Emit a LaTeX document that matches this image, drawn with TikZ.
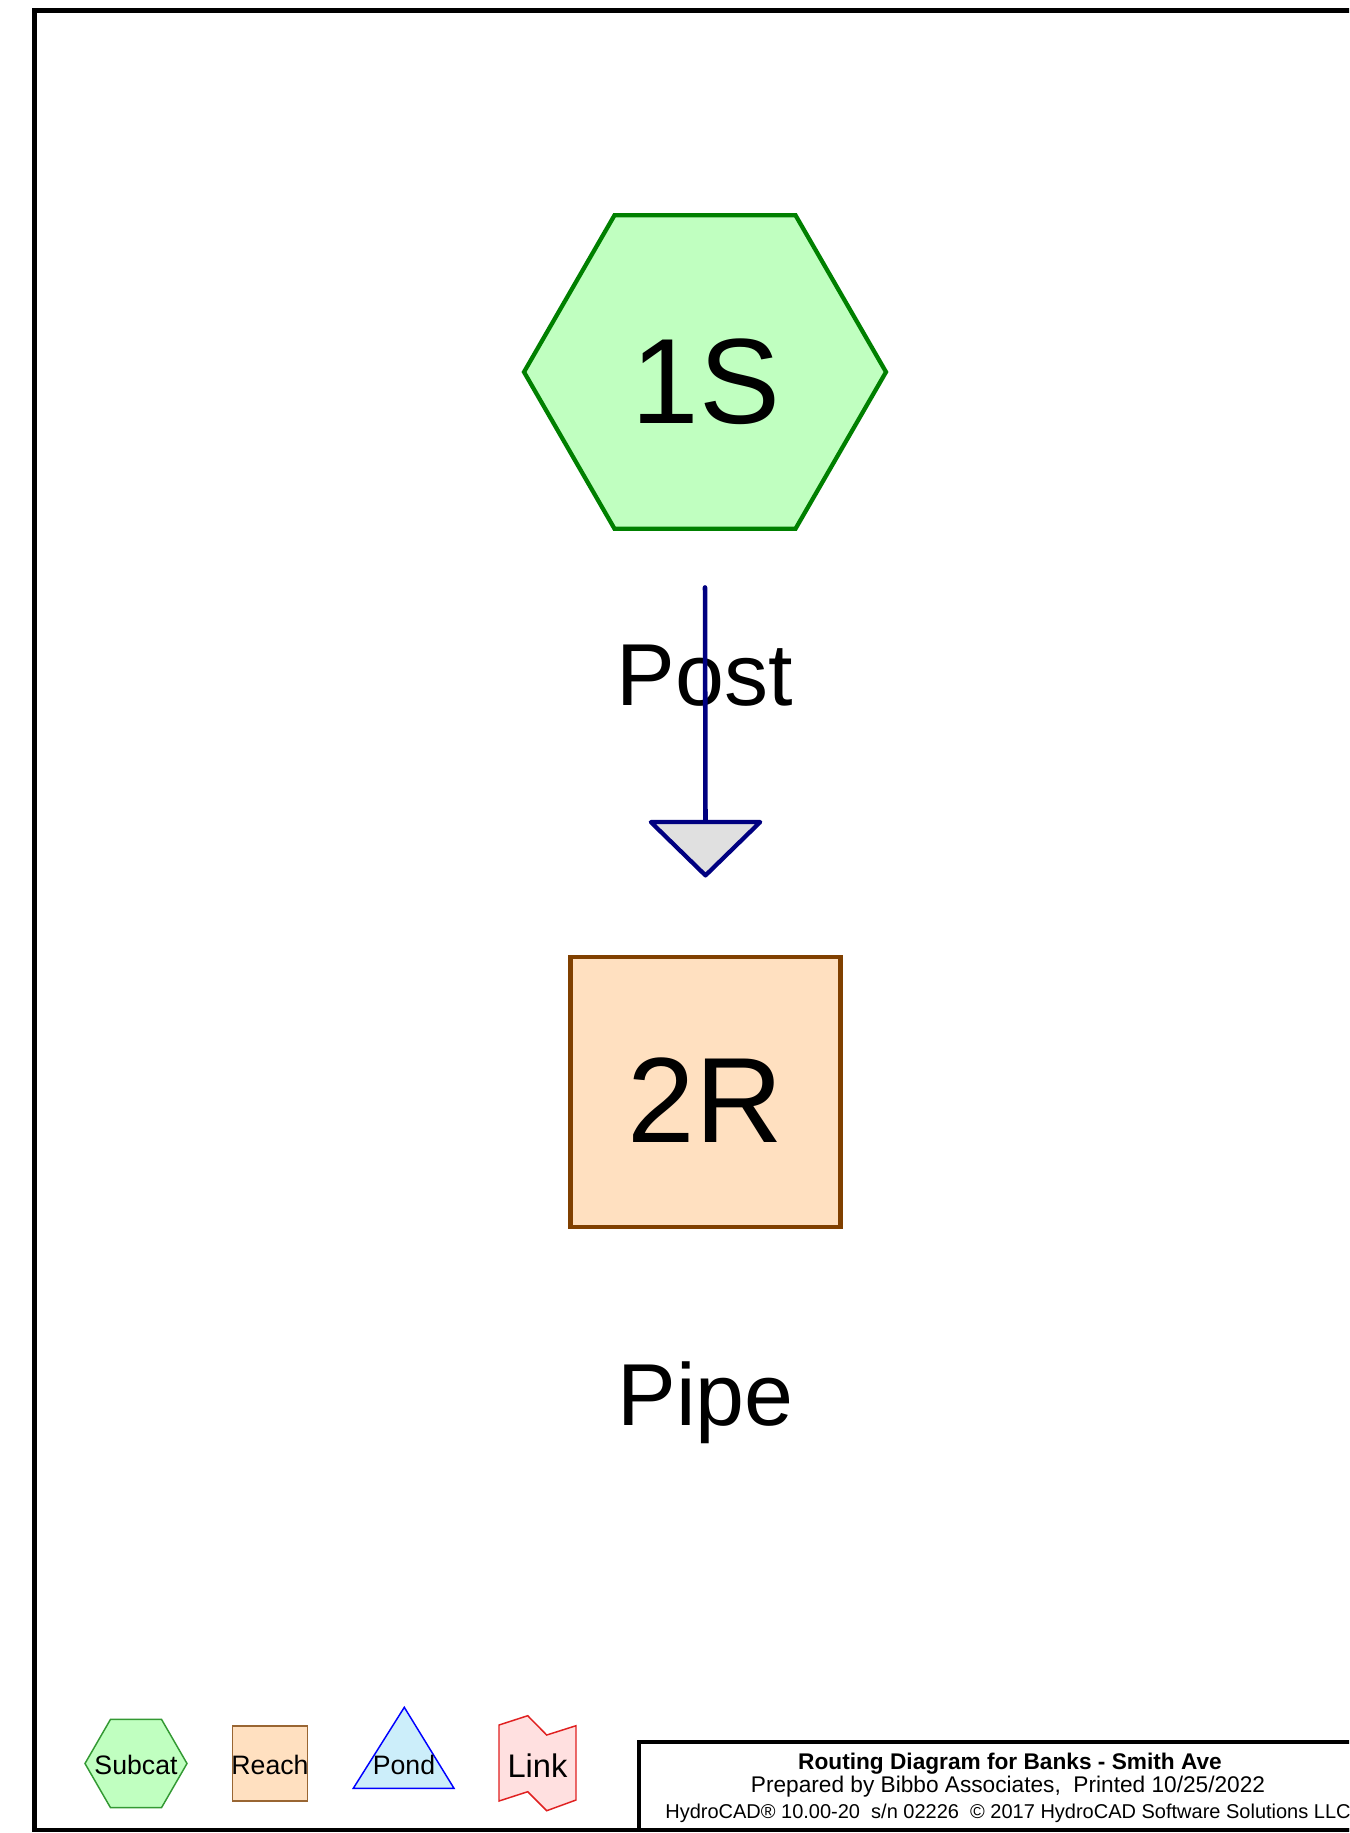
\documentclass[tikz,border=0pt]{standalone}
\usepackage{fontspec}
\setmainfont{Liberation Sans}
\usetikzlibrary{shapes.geometric, positioning, calc}
\definecolor{subgreen}{HTML}{008000}
\definecolor{subfill}{HTML}{C0FFC0}
\definecolor{reachbrown}{HTML}{804000}
\definecolor{reachfill}{HTML}{FFE0C0}
\definecolor{flownavy}{HTML}{000080}
\definecolor{outletfill}{HTML}{E0E0E0}
\definecolor{keygreen}{HTML}{339933}
\definecolor{keybrown}{HTML}{996633}
\definecolor{pondblue}{HTML}{0000FF}
\definecolor{pondfill}{HTML}{CCEEFA}
\definecolor{linkred}{HTML}{E02020}
\definecolor{linkfill}{HTML}{FFE0E0}
\tikzset{
	subcatnode/.style={
			regular polygon,
			regular polygon sides=6,
			draw=subgreen,
			fill=subfill,
			line width=3.2pt,
			minimum size=271.5pt,
			inner sep=0pt
		},
	reachnode/.style={
			rectangle,
			draw=reachbrown,
			fill=reachfill,
			line width=3.2pt,
			minimum size=202.5pt,
			inner sep=0pt
		},
	subcatkey/.style={
			subcatnode,
			draw=keygreen,
			line width=1.1pt,
			minimum size=76.5pt
		},
	reachkey/.style={
			reachnode,
			draw=keybrown,
			line width=1.1pt,
			minimum size=56.25pt
		}
}
\tikzset{
	framebox/.style={draw=black, line width=3.2pt},
	flowline/.style={draw=flownavy, line width=3.4pt, line cap=round},
	outletmark/.style={draw=flownavy, fill=outletfill, line width=3.2pt, line join=round},
	pondkey/.style={draw=pondblue, fill=pondfill, line width=1.1pt},
	linkkey/.style={draw=linkred, fill=linkfill, line width=1.1pt}
}
\tikzset{
	bigtext/.style={inner sep=0pt, font=\fontsize{91pt}{91pt}\selectfont},
	nametext/.style={inner sep=0pt, font=\fontsize{66pt}{66pt}\selectfont},
	keytext/.style={inner sep=0pt, font=\fontsize{20pt}{20pt}\selectfont},
	linktext/.style={inner sep=0pt, font=\fontsize{24.5pt}{24.5pt}\selectfont},
	titlebold/.style={inner sep=0pt, font=\fontsize{17pt}{17pt}\selectfont\bfseries},
	titletext/.style={inner sep=0pt, font=\fontsize{17pt}{17pt}\selectfont},
	smalltext/.style={inner sep=0pt, font=\fontsize{15pt}{15pt}\selectfont}
}
\begin{document}
\begin{tikzpicture}[x=0.75pt, y=-0.75pt]
	\fill[white] (0,0) rectangle (1349,1833);
	\useasboundingbox (0,0) rectangle (1349,1833);
	\clip (0,0) rectangle (1349,1833);

	\draw[framebox] (34.5,10.5) rectangle (1400,1830);

	% subcatchment and reach
	\node[subcatnode] (s1) at (705,372) {};
	\node[bigtext, anchor=base] (s1id) at (706,423) {1S};
	\node[nametext, anchor=base] (s1name) at (705,705) {Post};

	\node[reachnode] (r2) at (705.5,1092) {};
	\node[bigtext, anchor=base] (r2id) at (705.5,1142) {2R};
	\node[nametext, anchor=base] (r2name) at (705.5,1425) {Pipe};

	\coordinate[below=42.4pt of s1.south] (s1out);
	\coordinate[above=99.6pt of r2.north] (r2in);
	\draw[flowline] (s1out) -- (r2in);
	\draw[outletmark] ([xshift=-41pt]r2in) -- ([xshift=41pt]r2in) -- ([yshift=-40pt]r2in) -- cycle;

	% legend
	\node[subcatkey] (keysub) at (136,1763.5) {};
	\node[keytext, anchor=base] (keysubtxt) at (136,1774) {Subcat};
	\node[reachkey] (keyreach) at (270,1763.5) {};
	\node[keytext, anchor=base] (keyreachtxt) at (270,1774) {Reach};
	\draw[pondkey] (404.3,1707.3) -- (454,1788.3) -- (353.3,1788.3) -- cycle;
	\node[keytext, anchor=base] (keypondtxt) at (404,1774) {Pond};
	\draw[linkkey] (499,1725) -- (527.7,1715.7) -- (546.7,1735) -- (576,1725.7)
		-- (576,1800) -- (546.7,1810.7) -- (527.7,1791.7) -- (499,1801) -- cycle;
	\node[linktext, anchor=base] (keylinktxt) at (537.5,1777) {Link};

	% title block
	\draw[framebox] (639,1742) rectangle (1400,1830);
	\node[titlebold, anchor=base] (ttl1) at (1010,1769.5) {Routing Diagram for Banks - Smith Ave};
	\node[titletext, anchor=base] (ttl2) at (1008,1792) {Prepared by Bibbo Associates,~~Printed 10/25/2022};
	\node[smalltext, anchor=base] (ttl3) at (1008,1818) {HydroCAD® 10.00-20~~s/n 02226~~© 2017 HydroCAD Software Solutions LLC};
\end{tikzpicture}
\end{document}
